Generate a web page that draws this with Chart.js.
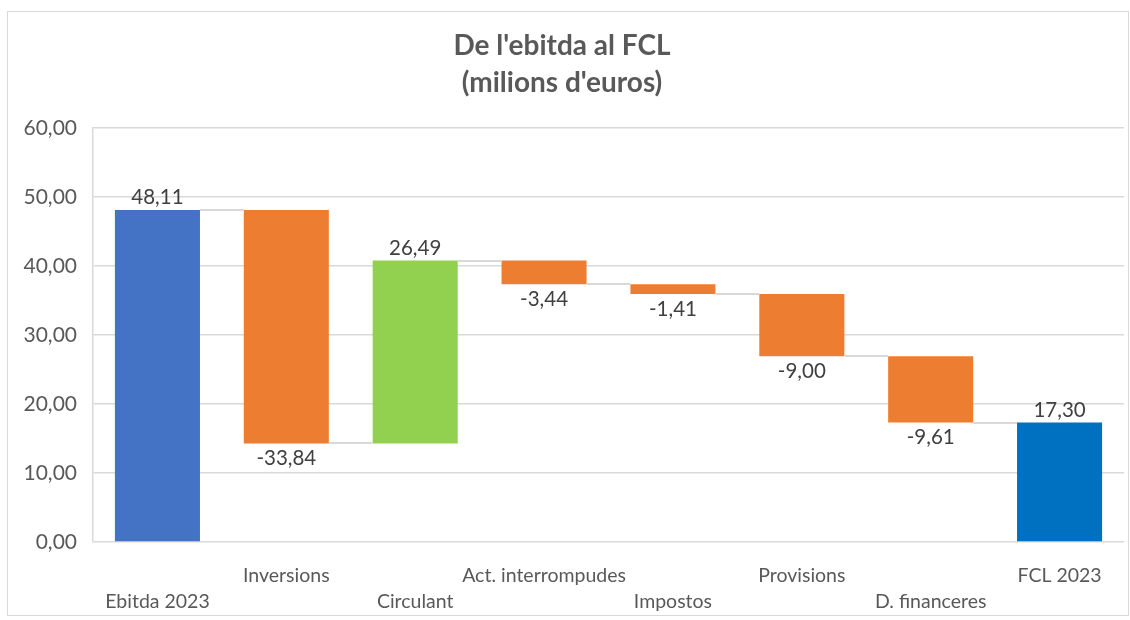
<!DOCTYPE html>
<html>
<head>
<meta charset="utf-8">
<script src="https://cdn.jsdelivr.net/npm/chart.js@4"></script>
<style>
  html, body { margin: 0; padding: 0; background: #fff; }
  #wrap { position: relative; width: 1130px; height: 620px; }
</style>
</head>
<body>
<div id="wrap"><canvas id="fclChart" width="1130" height="620"></canvas></div>
<script>
// waterfall data (milions d'euros)
const categories = ['Ebitda 2023', 'Inversions', 'Circulant', 'Act. interrompudes', 'Impostos', 'Provisions', 'D. financeres', 'FCL 2023'];
const values = [48.11, -33.84, 26.49, -3.44, -1.41, -9.00, -9.61, 17.30];
const isTotal = [true, false, false, false, false, false, false, true];
const yTicks = [0, 10, 20, 30, 40, 50, 60];

const FONT = 'Lato, "Liberation Sans", sans-serif';
const fmt = v => v.toFixed(2).replace('.', ',');

// build floating ranges from the changes
const ranges = [];
let running = 0;
values.forEach((v, i) => {
  if (isTotal[i]) {
    ranges.push([0, v]);
    running = v;
  } else {
    ranges.push([running, running + v]);
    running += v;
  }
});

const barColors = values.map((v, i) => {
  if (i === 0) return '#4472C4';
  if (i === values.length - 1) return '#0070C0';
  return v < 0 ? '#ED7D31' : '#92D050';
});

// staggered category labels: even ones on the second row
const tickLabels = categories.map((c, i) => (i % 2 === 0 ? ['', c] : [c]));

const frame = {
  id: 'frame',
  beforeDraw(chart) {
    const ctx = chart.ctx;
    ctx.save();
    ctx.fillStyle = '#fff';
    ctx.fillRect(0, 0, chart.width, chart.height);
    ctx.strokeStyle = '#D9D9D9';
    ctx.lineWidth = 1;
    ctx.strokeRect(7.5, 11.5, 1121, 604);
    ctx.restore();
  }
};

const waterfallExtras = {
  id: 'waterfallExtras',
  afterDatasetsDraw(chart) {
    const ctx = chart.ctx;
    const meta = chart.getDatasetMeta(0);
    const yScale = chart.scales.y;
    ctx.save();
    // connectors
    ctx.strokeStyle = '#D9D9D9';
    ctx.lineWidth = 2;
    for (let i = 0; i < meta.data.length - 1; i++) {
      const a = meta.data[i];
      const b = meta.data[i + 1];
      const level = Math.round(yScale.getPixelForValue(ranges[i][1]));
      ctx.beginPath();
      ctx.moveTo(a.x + a.width / 2, level);
      ctx.lineTo(b.x - b.width / 2, level);
      ctx.stroke();
    }
    // value labels
    ctx.fillStyle = '#404040';
    ctx.font = '20.5px ' + FONT;
    ctx.textAlign = 'center';
    meta.data.forEach((bar, i) => {
      const top = Math.min(bar.y, bar.base);
      const bottom = Math.max(bar.y, bar.base);
      if (values[i] >= 0) {
        ctx.textBaseline = 'bottom';
        ctx.fillText(fmt(values[i]), bar.x, top - 2);
      } else {
        ctx.textBaseline = 'top';
        ctx.fillText(fmt(values[i]), bar.x, bottom + 5);
      }
    });
    ctx.restore();
  }
};

new Chart(document.getElementById('fclChart'), {
  type: 'bar',
  data: {
    labels: tickLabels,
    datasets: [{
      data: ranges,
      backgroundColor: barColors,
      borderWidth: 0,
      categoryPercentage: 1,
      barPercentage: 0.66
    }]
  },
  options: {
    responsive: false,
    animation: false,
    layout: { padding: { left: 0, right: 6, top: 0, bottom: 0 } },
    plugins: {
      legend: { display: false },
      tooltip: { enabled: false },
      title: {
        display: true,
        text: ["De l'ebitda al FCL", "(milions d'euros)"],
        color: '#595959',
        font: { family: FONT, size: 28, weight: 'bold', lineHeight: 1.3 },
        padding: { top: 28, bottom: 27 }
      }
    },
    scales: {
      x: {
        grid: { display: false },
        border: { display: false },
        ticks: {
          color: '#595959',
          font: { family: FONT, size: 19.5, lineHeight: '26px' },
          padding: 13,
          maxRotation: 0,
          autoSkip: false
        },
        afterFit(scale) { scale.height = 78; }
      },
      y: {
        min: 0,
        max: 60,
        afterBuildTicks(scale) { scale.ticks = yTicks.map(v => ({ value: v })); },
        grid: { color: '#D9D9D9', lineWidth: 1.5, drawTicks: false },
        border: { display: true, color: '#D9D9D9', width: 1.5 },
        ticks: {
          color: '#595959',
          font: { family: FONT, size: 21 },
          padding: 16,
          callback: v => fmt(v)
        },
        afterFit(scale) { scale.width = 93; }
      }
    }
  },
  plugins: [frame, waterfallExtras]
});
</script>
</body>
</html>
